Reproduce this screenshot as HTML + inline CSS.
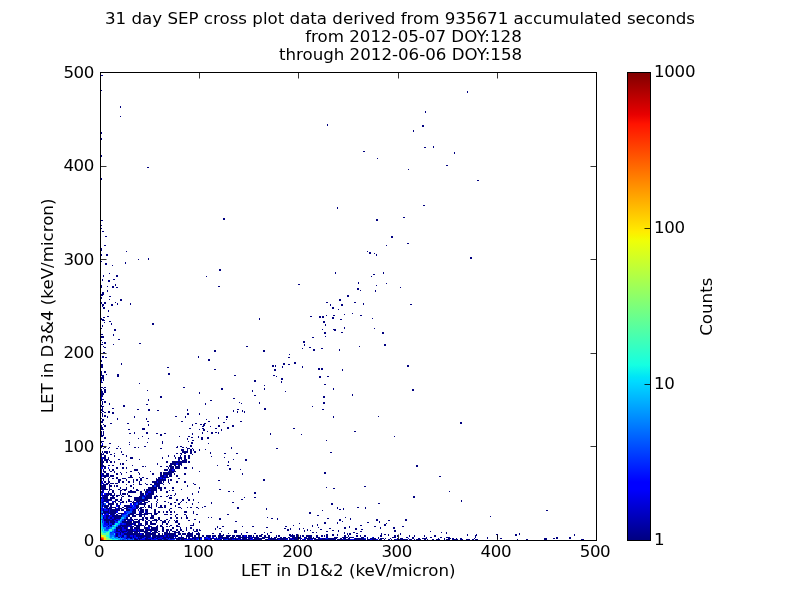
<!DOCTYPE html>
<html lang="en"><head><meta charset="utf-8"><title>31 day SEP cross plot</title>
<style>html,body{margin:0;padding:0;background:#fff;width:800px;height:600px;overflow:hidden}svg{display:block;will-change:transform}text{font-family:"DejaVu Sans","Liberation Sans",sans-serif;font-size:16.67px;fill:#000}.t{letter-spacing:-0.45px}.c{letter-spacing:-0.3px}</style>
</head><body>
<svg width="800" height="600" viewBox="0 0 800 600">
<rect x="0" y="0" width="800" height="600" fill="#ffffff"/>
<defs><linearGradient id="jet" x1="0" y1="1" x2="0" y2="0">
<stop offset="0.000" stop-color="#000080"/>
<stop offset="0.110" stop-color="#0000ff"/>
<stop offset="0.125" stop-color="#0000ff"/>
<stop offset="0.340" stop-color="#00dbff"/>
<stop offset="0.350" stop-color="#00e5f7"/>
<stop offset="0.375" stop-color="#15ffe2"/>
<stop offset="0.640" stop-color="#efff08"/>
<stop offset="0.650" stop-color="#f7f600"/>
<stop offset="0.660" stop-color="#ffec00"/>
<stop offset="0.890" stop-color="#ff1300"/>
<stop offset="0.910" stop-color="#e80000"/>
<stop offset="1.000" stop-color="#800000"/>
</linearGradient></defs>
<g id="data" shape-rendering="crispEdges" fill="none" stroke-width="1">
<path stroke="#000080" d="M101 75.5h2M101 90.5h1M467 91.5h1M467 92.5h1M120 106.5h1M120 107.5h1M425 111.5h1M425 112.5h1M120 116.5h1M327 124.5h1M327 125.5h1M422 125.5h2M422 126.5h2M413 130.5h1M413 131.5h1M101 132.5h1M101 133.5h1M101 138.5h1M101 139.5h1M433 146.5h1M424 147.5h2M433 147.5h1M363 151.5h2M454 152.5h1M454 153.5h1M101 155.5h1M101 156.5h1M377 158.5h1M446 165.5h2M147 167.5h2M408 169.5h1M101 178.5h1M101 179.5h1M477 180.5h2M423 205.5h2M337 207.5h1M337 208.5h1M403 217.5h2M223 218.5h2M223 219.5h2M376 219.5h2M101 220.5h2M376 220.5h2M101 225.5h1M101 228.5h1M102 231.5h2M105 236.5h2M391 236.5h2M391 237.5h2M407 243.5h2M104 245.5h2M386 245.5h1M101 248.5h1M101 249.5h1M101 250.5h1M126 251.5h1M367 251.5h1M369 252.5h2M369 253.5h2M374 253.5h1M101 254.5h1M106 254.5h2M376 254.5h1M101 255.5h1M106 255.5h2M376 255.5h1M470 257.5h2M148 258.5h1M470 258.5h2M138 259.5h1M148 259.5h1M101 261.5h1M125 262.5h1M105 263.5h2M125 263.5h1M105 264.5h2M112 265.5h1M219 269.5h2M219 270.5h2M335 272.5h1M383 272.5h1M109 273.5h1M335 273.5h1M383 273.5h1M373 274.5h2M103 275.5h1M116 275.5h2M103 276.5h1M116 276.5h2M206 276.5h1M371 276.5h1M102 279.5h1M113 279.5h2M102 280.5h1M108 280.5h2M108 281.5h2M358 282.5h1M358 283.5h1M386 283.5h1M115 284.5h1M298 284.5h2M101 285.5h1M115 285.5h1M376 285.5h1M101 286.5h1M107 286.5h1M112 286.5h2M218 286.5h2M101 287.5h1M112 287.5h2M116 287.5h2M400 287.5h1M357 288.5h2M357 289.5h2M107 290.5h1M360 290.5h1M375 290.5h1M107 291.5h1M375 291.5h1M102 292.5h2M102 293.5h2M101 294.5h3M101 295.5h2M347 295.5h2M109 296.5h2M347 296.5h2M101 297.5h1M101 298.5h1M109 299.5h1M120 299.5h2M339 299.5h2M120 300.5h2M339 300.5h2M101 302.5h1M104 302.5h2M115 302.5h1M326 302.5h2M354 302.5h2M101 303.5h1M104 303.5h2M117 303.5h1M130 303.5h1M363 303.5h1M102 304.5h2M111 304.5h2M117 304.5h1M130 304.5h1M330 304.5h1M341 304.5h2M363 304.5h1M410 304.5h2M102 305.5h2M111 305.5h2M330 305.5h1M341 305.5h2M102 306.5h1M103 307.5h2M332 307.5h2M103 308.5h2M332 308.5h2M338 309.5h1M108 310.5h1M108 311.5h1M352 313.5h1M344 314.5h1M326 315.5h1M333 315.5h2M360 315.5h2M107 316.5h2M310 316.5h2M319 316.5h2M322 316.5h2M103 317.5h2M319 317.5h2M322 317.5h2M332 317.5h2M101 318.5h1M259 318.5h1M332 318.5h2M372 318.5h1M101 319.5h3M259 319.5h1M340 319.5h2M102 320.5h3M109 321.5h2M323 321.5h2M104 322.5h1M323 322.5h2M111 323.5h1M152 323.5h2M111 324.5h1M152 324.5h2M325 324.5h1M102 325.5h1M325 325.5h1M102 326.5h1M344 327.5h1M101 328.5h1M344 328.5h1M374 328.5h1M114 329.5h2M322 329.5h1M333 329.5h3M114 330.5h2M334 330.5h2M324 332.5h2M341 332.5h2M382 332.5h2M324 333.5h2M382 333.5h2M101 334.5h2M113 334.5h1M113 335.5h1M101 336.5h3M325 336.5h1M101 337.5h3M312 337.5h2M118 339.5h2M101 340.5h1M303 341.5h2M102 342.5h1M104 342.5h2M303 342.5h2M104 343.5h2M139 343.5h2M101 344.5h2M113 344.5h1M304 344.5h1M384 344.5h2M304 345.5h1M384 345.5h2M103 346.5h1M246 346.5h2M359 346.5h1M104 347.5h2M309 347.5h2M302 348.5h1M321 348.5h2M313 349.5h2M339 349.5h1M214 350.5h2M263 350.5h2M313 350.5h2M339 350.5h1M214 351.5h2M263 351.5h2M103 352.5h2M289 354.5h1M102 356.5h2M198 356.5h1M102 357.5h2M105 357.5h2M198 357.5h1M288 357.5h2M208 359.5h2M101 360.5h1M208 360.5h2M101 361.5h1M294 362.5h2M121 363.5h1M283 363.5h2M294 363.5h2M101 364.5h2M121 364.5h1M283 364.5h2M288 364.5h2M101 365.5h2M272 365.5h2M275 365.5h1M407 365.5h2M101 366.5h2M272 366.5h2M275 366.5h1M282 366.5h1M302 366.5h1M407 366.5h2M101 367.5h2M167 367.5h2M282 367.5h1M302 367.5h1M318 368.5h2M321 368.5h2M214 369.5h2M274 369.5h2M318 369.5h2M321 369.5h2M342 369.5h1M274 370.5h2M342 370.5h1M101 371.5h1M104 371.5h2M101 372.5h1M104 372.5h2M101 373.5h1M168 373.5h2M101 374.5h1M106 374.5h1M117 374.5h2M168 374.5h2M101 375.5h3M117 375.5h2M234 375.5h2M273 375.5h2M102 376.5h2M117 376.5h2M276 376.5h1M319 376.5h2M327 376.5h2M101 377.5h3M319 377.5h2M101 378.5h3M281 378.5h2M101 379.5h1M103 379.5h1M281 379.5h2M101 380.5h1M103 380.5h1M254 380.5h2M254 381.5h2M281 381.5h1M101 382.5h2M281 382.5h1M139 383.5h1M324 384.5h2M264 385.5h1M101 387.5h2M104 387.5h2M183 387.5h2M103 388.5h1M221 388.5h2M264 388.5h1M333 388.5h1M101 389.5h1M104 389.5h2M221 389.5h2M264 389.5h1M333 389.5h1M412 389.5h2M101 390.5h1M104 390.5h2M147 390.5h1M252 390.5h1M412 390.5h2M101 391.5h2M104 391.5h2M252 391.5h1M285 391.5h1M101 392.5h2M104 392.5h2M199 392.5h1M101 393.5h3M199 393.5h1M101 394.5h3M352 394.5h1M101 395.5h2M254 395.5h2M352 395.5h1M101 396.5h2M160 396.5h2M323 396.5h2M160 397.5h2M323 397.5h2M233 398.5h2M101 399.5h3M148 399.5h1M101 400.5h1M148 400.5h1M210 400.5h2M102 401.5h1M104 401.5h2M102 402.5h1M104 402.5h2M239 402.5h1M259 402.5h1M323 402.5h2M102 403.5h1M109 403.5h1M205 403.5h1M241 403.5h1M259 403.5h1M323 403.5h2M102 404.5h1M109 404.5h1M146 404.5h2M205 404.5h1M101 405.5h1M123 405.5h2M101 406.5h3M123 406.5h2M312 406.5h1M102 407.5h1M102 408.5h1M112 408.5h2M264 408.5h2M101 409.5h2M137 409.5h2M148 409.5h2M187 409.5h1M237 409.5h2M264 409.5h2M322 409.5h2M101 410.5h2M148 410.5h2M157 410.5h2M187 410.5h1M233 410.5h1M242 410.5h1M102 411.5h2M108 411.5h2M233 411.5h1M237 411.5h1M242 411.5h1M244 411.5h1M101 412.5h1M104 412.5h2M108 412.5h2M112 412.5h2M237 412.5h1M244 412.5h1M102 413.5h1M112 413.5h2M187 413.5h2M199 413.5h1M102 414.5h1M187 414.5h2M199 414.5h1M102 415.5h1M104 415.5h2M102 416.5h1M104 416.5h2M107 416.5h1M134 416.5h1M175 416.5h2M185 416.5h1M226 416.5h2M333 416.5h1M378 416.5h1M107 417.5h1M134 417.5h1M185 417.5h1M218 417.5h1M226 417.5h2M333 417.5h1M101 418.5h1M117 418.5h1M146 418.5h1M218 418.5h1M102 419.5h2M117 419.5h1M146 419.5h1M206 419.5h1M226 419.5h1M102 420.5h2M101 421.5h2M147 421.5h2M181 421.5h2M208 421.5h2M240 421.5h2M101 422.5h2M223 422.5h2M460 422.5h2M110 423.5h2M127 423.5h2M195 423.5h2M204 423.5h2M460 423.5h2M103 424.5h1M148 424.5h1M192 424.5h1M200 424.5h2M203 424.5h2M101 425.5h1M104 425.5h2M148 425.5h1M192 425.5h1M203 425.5h2M218 425.5h2M232 425.5h2M101 426.5h1M104 426.5h2M202 426.5h2M210 426.5h1M218 426.5h2M232 426.5h2M101 427.5h2M227 427.5h2M101 428.5h2M142 428.5h3M189 428.5h2M202 428.5h2M215 428.5h2M227 428.5h2M293 428.5h2M101 429.5h3M128 429.5h2M142 429.5h3M199 429.5h1M203 429.5h2M221 429.5h1M203 430.5h2M221 430.5h1M101 431.5h1M103 431.5h1M207 431.5h1M354 431.5h2M101 432.5h1M103 432.5h1M134 432.5h1M146 432.5h2M202 432.5h1M211 432.5h2M215 432.5h2M218 432.5h1M101 433.5h1M103 433.5h1M129 433.5h2M134 433.5h1M146 433.5h2M156 433.5h2M164 433.5h2M192 433.5h1M202 433.5h1M211 433.5h2M218 433.5h1M270 433.5h1M101 434.5h1M103 434.5h1M160 434.5h2M192 434.5h1M270 434.5h1M301 434.5h1M101 435.5h3M160 435.5h2M101 436.5h2M142 436.5h1M179 436.5h1M188 436.5h2M198 436.5h1M394 436.5h1M104 437.5h2M191 437.5h2M198 437.5h1M201 437.5h2M207 437.5h2M104 438.5h2M138 438.5h1M148 438.5h1M187 438.5h1M201 438.5h2M207 438.5h2M187 439.5h1M201 439.5h2M192 440.5h2M326 440.5h1M101 441.5h3M162 441.5h1M188 441.5h1M101 442.5h1M129 442.5h1M147 442.5h1M162 442.5h1M191 442.5h2M109 443.5h2M162 443.5h1M191 443.5h2M208 443.5h1M129 444.5h1M102 445.5h1M190 445.5h2M102 446.5h1M118 446.5h1M144 446.5h2M177 446.5h1M180 446.5h2M190 446.5h2M101 447.5h1M104 447.5h2M109 447.5h1M134 447.5h2M138 447.5h1M176 447.5h2M182 447.5h2M186 447.5h1M231 447.5h1M103 448.5h1M108 448.5h1M116 448.5h2M120 448.5h1M160 448.5h2M187 448.5h3M192 448.5h1M231 448.5h1M276 448.5h2M181 449.5h3M187 449.5h1M190 449.5h2M193 449.5h1M199 449.5h1M205 449.5h1M181 450.5h3M187 450.5h1M190 450.5h2M193 450.5h1M199 450.5h1M102 451.5h1M104 451.5h4M109 451.5h1M121 451.5h1M182 451.5h6M190 451.5h2M194 451.5h2M102 452.5h1M104 452.5h4M109 452.5h1M121 452.5h1M182 452.5h6M190 452.5h2M194 452.5h2M210 452.5h1M330 452.5h2M101 453.5h1M103 453.5h1M106 453.5h2M114 453.5h1M176 453.5h2M180 453.5h2M184 453.5h2M190 453.5h2M210 453.5h1M224 453.5h2M236 453.5h2M101 454.5h3M110 454.5h2M122 454.5h2M181 454.5h1M192 454.5h1M101 455.5h1M104 455.5h2M114 455.5h1M126 455.5h1M168 455.5h1M174 455.5h1M180 455.5h1M184 455.5h2M188 455.5h2M101 456.5h1M104 456.5h2M114 456.5h1M126 456.5h1M168 456.5h1M174 456.5h1M180 456.5h1M184 456.5h2M188 456.5h2M211 456.5h1M101 457.5h1M103 457.5h3M108 457.5h1M130 457.5h3M162 457.5h1M175 457.5h1M178 457.5h4M184 457.5h2M188 457.5h2M224 457.5h1M101 458.5h1M103 458.5h3M108 458.5h1M130 458.5h3M162 458.5h1M175 458.5h1M178 458.5h4M184 458.5h2M188 458.5h2M101 459.5h2M104 459.5h5M118 459.5h2M139 459.5h1M178 459.5h2M181 459.5h1M184 459.5h3M233 459.5h1M245 459.5h2M101 460.5h2M104 460.5h4M109 460.5h1M126 460.5h1M182 460.5h5M245 460.5h2M101 461.5h3M106 461.5h2M110 461.5h2M114 461.5h1M166 461.5h2M172 461.5h15M188 461.5h2M228 461.5h1M101 462.5h3M106 462.5h2M110 462.5h2M114 462.5h1M166 462.5h2M172 462.5h15M188 462.5h2M228 462.5h1M101 463.5h2M120 463.5h1M122 463.5h2M157 463.5h1M170 463.5h6M178 463.5h4M101 464.5h2M120 464.5h1M122 464.5h2M157 464.5h1M170 464.5h6M178 464.5h4M101 465.5h3M108 465.5h2M112 465.5h2M132 465.5h1M169 465.5h3M174 465.5h2M178 465.5h2M181 465.5h1M217 465.5h1M227 465.5h2M416 465.5h2M101 466.5h5M142 466.5h2M145 466.5h1M160 466.5h2M166 466.5h2M169 466.5h5M175 466.5h5M416 466.5h2M104 467.5h2M116 467.5h2M122 467.5h2M126 467.5h1M168 467.5h1M170 467.5h4M175 467.5h5M184 467.5h3M192 467.5h1M104 468.5h2M116 468.5h2M122 468.5h2M126 468.5h1M168 468.5h1M170 468.5h4M175 468.5h5M184 468.5h3M192 468.5h1M229 468.5h2M101 469.5h1M103 469.5h1M109 469.5h1M112 469.5h2M134 469.5h4M164 469.5h4M169 469.5h3M174 469.5h1M229 469.5h2M240 469.5h1M101 470.5h1M103 470.5h1M109 470.5h1M112 470.5h2M134 470.5h4M164 470.5h4M169 470.5h3M174 470.5h1M101 471.5h1M103 471.5h3M110 471.5h2M114 471.5h1M130 471.5h2M150 471.5h1M169 471.5h7M199 471.5h1M101 472.5h1M104 472.5h2M114 472.5h1M120 472.5h1M126 472.5h1M138 472.5h1M160 472.5h2M163 472.5h11M324 472.5h2M102 473.5h2M106 473.5h3M116 473.5h2M121 473.5h1M139 473.5h1M152 473.5h2M160 473.5h2M163 473.5h9M174 473.5h1M184 473.5h2M242 473.5h1M324 473.5h2M102 474.5h2M106 474.5h3M116 474.5h2M121 474.5h1M139 474.5h1M152 474.5h2M160 474.5h2M163 474.5h9M174 474.5h1M184 474.5h2M242 474.5h1M101 475.5h1M103 475.5h6M110 475.5h4M130 475.5h2M160 475.5h4M166 475.5h2M169 475.5h3M176 475.5h2M101 476.5h1M103 476.5h6M110 476.5h4M130 476.5h2M160 476.5h4M166 476.5h2M169 476.5h3M176 476.5h2M439 476.5h2M104 477.5h2M109 477.5h1M116 477.5h2M128 477.5h5M139 477.5h1M142 477.5h2M158 477.5h2M162 477.5h7M101 478.5h3M108 478.5h1M112 478.5h2M116 478.5h2M122 478.5h4M140 478.5h2M146 478.5h2M156 478.5h1M158 478.5h2M162 478.5h1M178 478.5h2M101 479.5h1M103 479.5h1M108 479.5h1M118 479.5h3M126 479.5h1M133 479.5h1M136 479.5h2M140 479.5h2M156 479.5h10M168 479.5h1M170 479.5h2M263 479.5h2M101 480.5h1M103 480.5h1M108 480.5h1M118 480.5h3M126 480.5h1M133 480.5h1M136 480.5h2M140 480.5h2M156 480.5h10M168 480.5h1M170 480.5h2M218 480.5h2M263 480.5h2M101 481.5h1M104 481.5h2M108 481.5h2M118 481.5h2M122 481.5h2M128 481.5h2M133 481.5h1M139 481.5h1M152 481.5h5M158 481.5h4M163 481.5h1M168 481.5h1M176 481.5h2M184 481.5h2M101 482.5h1M104 482.5h2M108 482.5h2M118 482.5h2M122 482.5h2M128 482.5h2M133 482.5h1M139 482.5h1M152 482.5h5M158 482.5h4M163 482.5h1M168 482.5h1M176 482.5h2M184 482.5h2M102 483.5h1M106 483.5h3M110 483.5h4M115 483.5h3M139 483.5h1M145 483.5h1M154 483.5h9M169 483.5h1M193 483.5h1M103 484.5h5M109 484.5h1M126 484.5h1M133 484.5h1M139 484.5h3M146 484.5h2M150 484.5h2M154 484.5h6M163 484.5h1M194 484.5h2M101 485.5h5M109 485.5h3M114 485.5h1M116 485.5h2M130 485.5h2M152 485.5h2M156 485.5h4M187 485.5h1M101 486.5h5M109 486.5h3M114 486.5h1M116 486.5h2M130 486.5h2M152 486.5h2M156 486.5h4M187 486.5h1M364 486.5h2M101 487.5h5M109 487.5h1M120 487.5h1M126 487.5h1M133 487.5h1M148 487.5h9M158 487.5h4M164 487.5h2M172 487.5h2M199 487.5h1M326 487.5h1M101 488.5h5M109 488.5h1M120 488.5h1M126 488.5h1M133 488.5h1M148 488.5h9M158 488.5h4M164 488.5h2M172 488.5h2M199 488.5h1M333 488.5h2M101 489.5h7M109 489.5h3M118 489.5h2M122 489.5h5M136 489.5h2M144 489.5h1M146 489.5h4M151 489.5h6M160 489.5h2M181 489.5h1M219 489.5h2M103 490.5h1M109 490.5h1M112 490.5h2M120 490.5h2M124 490.5h2M130 490.5h2M136 490.5h3M144 490.5h1M146 490.5h11M160 490.5h2M169 490.5h1M172 490.5h2M101 491.5h2M108 491.5h1M112 491.5h2M120 491.5h1M128 491.5h8M140 491.5h2M145 491.5h3M151 491.5h3M156 491.5h1M166 491.5h2M198 491.5h1M228 491.5h2M233 491.5h1M449 491.5h1M101 492.5h2M108 492.5h1M112 492.5h2M120 492.5h1M128 492.5h8M140 492.5h2M145 492.5h3M151 492.5h3M156 492.5h1M166 492.5h2M198 492.5h1M254 492.5h2M106 493.5h6M114 493.5h1M120 493.5h1M122 493.5h4M127 493.5h1M140 493.5h4M145 493.5h1M148 493.5h6M175 493.5h1M192 493.5h1M254 493.5h2M106 494.5h6M114 494.5h1M120 494.5h1M122 494.5h4M127 494.5h1M140 494.5h4M145 494.5h1M148 494.5h6M175 494.5h1M192 494.5h1M102 495.5h7M110 495.5h5M116 495.5h4M121 495.5h1M128 495.5h2M140 495.5h4M146 495.5h6M156 495.5h1M168 495.5h1M170 495.5h2M174 495.5h1M104 496.5h4M112 496.5h2M116 496.5h2M122 496.5h2M128 496.5h4M139 496.5h3M144 496.5h1M146 496.5h6M154 496.5h4M160 496.5h2M166 496.5h2M413 496.5h2M101 497.5h1M103 497.5h5M110 497.5h5M121 497.5h1M134 497.5h8M145 497.5h7M154 497.5h2M169 497.5h3M187 497.5h1M244 497.5h1M254 497.5h2M413 497.5h2M101 498.5h1M103 498.5h5M110 498.5h5M121 498.5h1M134 498.5h8M145 498.5h7M154 498.5h2M169 498.5h3M187 498.5h1M104 499.5h8M115 499.5h3M120 499.5h2M128 499.5h2M134 499.5h14M157 499.5h1M176 499.5h2M182 499.5h2M188 499.5h2M193 499.5h1M241 499.5h2M104 500.5h8M115 500.5h3M120 500.5h2M128 500.5h2M134 500.5h14M157 500.5h1M176 500.5h2M182 500.5h2M188 500.5h2M193 500.5h1M461 500.5h1M103 501.5h5M114 501.5h2M118 501.5h2M122 501.5h2M126 501.5h1M128 501.5h4M133 501.5h1M136 501.5h4M142 501.5h3M148 501.5h2M156 501.5h1M164 501.5h2M181 501.5h1M461 501.5h1M102 502.5h1M108 502.5h1M112 502.5h2M115 502.5h1M120 502.5h4M126 502.5h1M132 502.5h4M138 502.5h1M140 502.5h2M144 502.5h4M157 502.5h1M168 502.5h1M174 502.5h2M180 502.5h1M186 502.5h1M198 502.5h1M211 502.5h1M232 502.5h2M103 503.5h1M108 503.5h6M116 503.5h2M133 503.5h1M138 503.5h8M151 503.5h1M156 503.5h1M170 503.5h2M178 503.5h2M192 503.5h1M211 503.5h1M331 503.5h2M378 503.5h2M103 504.5h1M108 504.5h6M116 504.5h2M133 504.5h1M138 504.5h8M151 504.5h1M156 504.5h1M170 504.5h2M178 504.5h2M192 504.5h1M331 504.5h2M102 505.5h1M104 505.5h5M110 505.5h2M118 505.5h2M124 505.5h6M136 505.5h3M144 505.5h1M148 505.5h2M151 505.5h1M156 505.5h1M160 505.5h2M164 505.5h2M175 505.5h1M102 506.5h1M104 506.5h5M110 506.5h2M118 506.5h2M124 506.5h6M136 506.5h3M144 506.5h1M148 506.5h2M151 506.5h1M156 506.5h1M160 506.5h2M164 506.5h2M175 506.5h1M204 506.5h2M104 507.5h4M110 507.5h6M118 507.5h2M122 507.5h2M126 507.5h6M136 507.5h3M140 507.5h4M145 507.5h1M148 507.5h4M158 507.5h5M164 507.5h2M178 507.5h3M187 507.5h1M190 507.5h2M196 507.5h2M202 507.5h1M237 507.5h2M337 507.5h1M357 507.5h2M365 507.5h1M106 508.5h6M115 508.5h1M118 508.5h4M124 508.5h4M136 508.5h2M139 508.5h3M151 508.5h1M170 508.5h2M181 508.5h1M198 508.5h1M237 508.5h2M266 508.5h1M337 508.5h1M343 508.5h1M365 508.5h1M103 509.5h1M108 509.5h1M110 509.5h10M121 509.5h3M126 509.5h4M133 509.5h3M138 509.5h1M140 509.5h4M145 509.5h3M154 509.5h2M169 509.5h1M266 509.5h1M339 509.5h2M343 509.5h1M103 510.5h1M108 510.5h1M110 510.5h10M121 510.5h3M126 510.5h4M133 510.5h3M138 510.5h1M140 510.5h4M145 510.5h3M154 510.5h2M169 510.5h1M322 510.5h1M546 510.5h2M103 511.5h6M110 511.5h6M132 511.5h4M140 511.5h4M146 511.5h2M154 511.5h2M158 511.5h2M163 511.5h1M166 511.5h2M170 511.5h2M174 511.5h1M184 511.5h3M193 511.5h1M103 512.5h6M110 512.5h6M132 512.5h4M140 512.5h4M146 512.5h2M154 512.5h2M158 512.5h2M163 512.5h1M166 512.5h2M170 512.5h2M174 512.5h1M184 512.5h3M193 512.5h1M309 512.5h2M102 513.5h1M104 513.5h2M108 513.5h8M118 513.5h6M130 513.5h6M139 513.5h3M144 513.5h8M154 513.5h4M193 513.5h1M309 513.5h2M102 514.5h1M110 514.5h4M116 514.5h2M121 514.5h1M128 514.5h6M136 514.5h12M151 514.5h1M154 514.5h3M164 514.5h4M170 514.5h2M176 514.5h2M184 514.5h2M196 514.5h2M227 514.5h2M106 515.5h3M112 515.5h10M128 515.5h2M132 515.5h4M139 515.5h3M144 515.5h1M151 515.5h3M175 515.5h1M186 515.5h1M317 515.5h2M106 516.5h3M112 516.5h10M128 516.5h2M132 516.5h4M139 516.5h3M144 516.5h1M151 516.5h3M175 516.5h1M186 516.5h1M490 516.5h1M103 517.5h1M106 517.5h2M110 517.5h2M114 517.5h7M126 517.5h2M130 517.5h2M142 517.5h2M145 517.5h3M150 517.5h4M158 517.5h2M170 517.5h2M176 517.5h2M181 517.5h1M186 517.5h2M208 517.5h1M211 517.5h1M267 517.5h1M345 517.5h1M103 518.5h1M106 518.5h2M110 518.5h2M114 518.5h7M126 518.5h2M130 518.5h2M142 518.5h2M145 518.5h3M150 518.5h4M158 518.5h2M170 518.5h2M176 518.5h2M181 518.5h1M186 518.5h2M219 518.5h2M271 518.5h2M277 518.5h1M327 518.5h2M350 518.5h1M104 519.5h6M112 519.5h4M124 519.5h9M134 519.5h4M139 519.5h5M146 519.5h2M154 519.5h3M158 519.5h2M166 519.5h2M194 519.5h2M219 519.5h2M277 519.5h1M339 519.5h2M350 519.5h1M376 519.5h2M405 519.5h2M104 520.5h10M116 520.5h2M124 520.5h2M128 520.5h2M132 520.5h2M138 520.5h2M142 520.5h2M145 520.5h1M148 520.5h2M152 520.5h6M160 520.5h2M164 520.5h2M169 520.5h1M174 520.5h1M176 520.5h2M188 520.5h2M339 520.5h2M376 520.5h2M388 520.5h2M405 520.5h2M106 521.5h3M110 521.5h5M122 521.5h10M133 521.5h7M145 521.5h3M150 521.5h2M156 521.5h1M162 521.5h4M168 521.5h1M175 521.5h3M199 521.5h1M235 521.5h2M342 521.5h1M379 521.5h1M106 522.5h3M110 522.5h5M122 522.5h10M133 522.5h7M145 522.5h3M150 522.5h2M156 522.5h1M162 522.5h4M168 522.5h1M175 522.5h3M199 522.5h1M324 522.5h2M337 522.5h1M367 522.5h2M379 522.5h1M108 523.5h1M112 523.5h2M126 523.5h7M134 523.5h2M138 523.5h1M140 523.5h2M145 523.5h3M150 523.5h6M162 523.5h1M166 523.5h2M178 523.5h2M193 523.5h1M299 523.5h1M324 523.5h2M337 523.5h1M386 523.5h1M108 524.5h1M112 524.5h2M126 524.5h7M134 524.5h2M138 524.5h1M140 524.5h2M145 524.5h3M150 524.5h6M162 524.5h1M166 524.5h2M178 524.5h2M193 524.5h1M317 524.5h1M384 524.5h2M110 525.5h2M120 525.5h10M134 525.5h10M145 525.5h1M148 525.5h2M157 525.5h1M160 525.5h2M170 525.5h2M176 525.5h2M190 525.5h4M293 525.5h1M312 525.5h1M317 525.5h1M360 525.5h2M384 525.5h2M108 526.5h1M118 526.5h3M122 526.5h6M130 526.5h4M136 526.5h4M144 526.5h1M148 526.5h4M156 526.5h2M160 526.5h3M166 526.5h2M169 526.5h1M176 526.5h4M217 526.5h1M222 526.5h2M242 526.5h1M252 526.5h2M285 526.5h2M312 526.5h1M349 526.5h1M374 526.5h2M402 526.5h2M116 527.5h6M124 527.5h3M130 527.5h3M134 527.5h6M144 527.5h4M151 527.5h7M162 527.5h2M172 527.5h2M180 527.5h1M186 527.5h1M190 527.5h2M217 527.5h1M266 527.5h2M318 527.5h1M344 527.5h2M349 527.5h1M380 527.5h1M393 527.5h2M116 528.5h6M124 528.5h3M130 528.5h3M134 528.5h6M144 528.5h4M151 528.5h7M162 528.5h2M172 528.5h2M180 528.5h1M186 528.5h1M190 528.5h2M215 528.5h1M219 528.5h2M284 528.5h2M290 528.5h1M299 528.5h1M303 528.5h1M329 528.5h2M344 528.5h2M355 528.5h2M380 528.5h1M393 528.5h2M116 529.5h2M120 529.5h2M126 529.5h7M136 529.5h2M139 529.5h5M145 529.5h13M162 529.5h2M166 529.5h3M170 529.5h2M176 529.5h2M180 529.5h2M186 529.5h1M193 529.5h1M196 529.5h2M199 529.5h1M215 529.5h1M287 529.5h2M290 529.5h1M299 529.5h1M307 529.5h1M320 529.5h2M355 529.5h2M361 529.5h2M116 530.5h2M120 530.5h2M126 530.5h7M136 530.5h2M139 530.5h5M145 530.5h13M162 530.5h2M166 530.5h3M170 530.5h2M176 530.5h2M180 530.5h2M186 530.5h1M193 530.5h1M196 530.5h2M199 530.5h2M234 530.5h3M287 530.5h2M304 530.5h1M307 530.5h1M310 530.5h1M332 530.5h2M338 530.5h1M394 530.5h2M116 531.5h4M121 531.5h6M128 531.5h11M140 531.5h8M151 531.5h1M154 531.5h3M158 531.5h2M162 531.5h2M166 531.5h2M169 531.5h1M172 531.5h4M178 531.5h2M182 531.5h2M194 531.5h4M221 531.5h1M234 531.5h3M304 531.5h1M326 531.5h2M338 531.5h1M360 531.5h2M394 531.5h2M430 531.5h1M120 532.5h1M122 532.5h2M127 532.5h6M134 532.5h4M139 532.5h1M144 532.5h6M152 532.5h6M164 532.5h4M169 532.5h1M174 532.5h6M188 532.5h2M192 532.5h1M198 532.5h1M234 532.5h3M246 532.5h2M264 532.5h1M270 532.5h2M312 532.5h2M316 532.5h1M344 532.5h1M353 532.5h2M441 532.5h1M446 532.5h1M116 533.5h2M120 533.5h1M124 533.5h16M142 533.5h2M145 533.5h11M158 533.5h2M162 533.5h1M164 533.5h12M178 533.5h3M182 533.5h4M187 533.5h6M196 533.5h4M212 533.5h2M219 533.5h2M228 533.5h1M241 533.5h1M254 533.5h2M267 533.5h1M344 533.5h1M347 533.5h1M349 533.5h2M356 533.5h2M381 533.5h1M400 533.5h1M446 533.5h1M519 533.5h1M116 534.5h2M120 534.5h1M124 534.5h16M142 534.5h2M145 534.5h11M158 534.5h2M162 534.5h1M164 534.5h12M178 534.5h3M182 534.5h4M187 534.5h6M196 534.5h4M219 534.5h2M223 534.5h1M241 534.5h1M261 534.5h2M267 534.5h1M289 534.5h2M292 534.5h1M296 534.5h2M326 534.5h2M332 534.5h2M337 534.5h1M347 534.5h1M349 534.5h2M381 534.5h1M384 534.5h2M388 534.5h1M400 534.5h1M467 534.5h1M476 534.5h1M496 534.5h2M515 534.5h2M519 534.5h1M574 534.5h1M116 535.5h2M122 535.5h2M127 535.5h3M133 535.5h1M136 535.5h15M152 535.5h12M166 535.5h2M169 535.5h5M175 535.5h3M181 535.5h1M186 535.5h7M194 535.5h2M198 535.5h1M202 535.5h2M206 535.5h5M212 535.5h4M218 535.5h6M226 535.5h5M232 535.5h3M236 535.5h5M242 535.5h2M246 535.5h1M248 535.5h4M253 535.5h1M256 535.5h2M259 535.5h3M264 535.5h2M268 535.5h2M276 535.5h1M278 535.5h2M289 535.5h6M296 535.5h2M300 535.5h1M302 535.5h2M306 535.5h6M316 535.5h2M321 535.5h2M324 535.5h1M326 535.5h2M332 535.5h2M337 535.5h1M344 535.5h2M348 535.5h1M356 535.5h2M360 535.5h1M364 535.5h2M380 535.5h2M388 535.5h1M394 535.5h2M397 535.5h1M409 535.5h1M414 535.5h1M424 535.5h1M434 535.5h2M467 535.5h1M475 535.5h2M497 535.5h1M515 535.5h2M574 535.5h1M116 536.5h2M122 536.5h2M127 536.5h3M133 536.5h1M136 536.5h15M152 536.5h12M166 536.5h2M169 536.5h5M175 536.5h3M181 536.5h1M186 536.5h7M194 536.5h2M198 536.5h1M202 536.5h2M206 536.5h5M212 536.5h4M218 536.5h5M226 536.5h4M232 536.5h3M236 536.5h5M242 536.5h2M246 536.5h1M248 536.5h4M253 536.5h1M256 536.5h2M259 536.5h3M264 536.5h2M268 536.5h2M276 536.5h1M278 536.5h2M290 536.5h5M296 536.5h2M300 536.5h1M302 536.5h2M306 536.5h6M316 536.5h2M321 536.5h2M324 536.5h1M326 536.5h2M344 536.5h2M348 536.5h1M356 536.5h2M360 536.5h1M364 536.5h2M380 536.5h2M394 536.5h2M397 536.5h1M409 536.5h1M414 536.5h1M424 536.5h1M434 536.5h2M475 536.5h1M497 536.5h1M118 537.5h2M121 537.5h1M127 537.5h5M133 537.5h1M138 537.5h1M140 537.5h4M146 537.5h4M152 537.5h4M157 537.5h3M163 537.5h11M175 537.5h1M178 537.5h2M181 537.5h3M186 537.5h1M188 537.5h2M192 537.5h10M204 537.5h2M208 537.5h2M216 537.5h1M218 537.5h11M230 537.5h4M235 537.5h1M238 537.5h9M248 537.5h2M252 537.5h7M262 537.5h8M271 537.5h1M274 537.5h3M280 537.5h2M283 537.5h3M288 537.5h2M292 537.5h9M304 537.5h3M308 537.5h4M313 537.5h1M316 537.5h4M326 537.5h2M334 537.5h4M342 537.5h6M349 537.5h5M361 537.5h3M367 537.5h1M373 537.5h1M378 537.5h1M392 537.5h4M406 537.5h2M412 537.5h2M426 537.5h1M430 537.5h2M440 537.5h2M446 537.5h4M475 537.5h1M487 537.5h1M497 537.5h1M556 537.5h2M569 537.5h2M126 538.5h1M130 538.5h2M134 538.5h2M138 538.5h4M145 538.5h3M152 538.5h2M156 538.5h2M162 538.5h4M168 538.5h1M170 538.5h4M176 538.5h11M188 538.5h2M192 538.5h4M199 538.5h1M210 538.5h4M216 538.5h1M218 538.5h2M222 538.5h7M230 538.5h6M238 538.5h3M242 538.5h5M248 538.5h4M254 538.5h11M268 538.5h8M277 538.5h11M289 538.5h1M292 538.5h8M301 538.5h1M306 538.5h10M318 538.5h2M322 538.5h3M328 538.5h9M340 538.5h2M343 538.5h3M348 538.5h2M355 538.5h9M367 538.5h1M370 538.5h6M378 538.5h1M380 538.5h4M385 538.5h1M390 538.5h1M397 538.5h1M400 538.5h3M412 538.5h2M418 538.5h2M422 538.5h5M438 538.5h1M444 538.5h1M448 538.5h3M452 538.5h2M456 538.5h1M460 538.5h2M474 538.5h1M487 538.5h1M497 538.5h1M500 538.5h2M544 538.5h3M553 538.5h2M556 538.5h2M569 538.5h2M134 539.5h4M139 539.5h1M145 539.5h6M158 539.5h4M164 539.5h4M176 539.5h4M181 539.5h3M190 539.5h2M194 539.5h2M204 539.5h4M210 539.5h2M214 539.5h2M217 539.5h1M220 539.5h2M223 539.5h1M228 539.5h4M235 539.5h3M240 539.5h1M242 539.5h8M253 539.5h9M265 539.5h3M270 539.5h8M280 539.5h6M289 539.5h3M294 539.5h4M300 539.5h1M304 539.5h2M307 539.5h3M314 539.5h22M337 539.5h6M344 539.5h6M354 539.5h12M367 539.5h3M372 539.5h4M379 539.5h3M384 539.5h1M388 539.5h2M391 539.5h1M394 539.5h2M397 539.5h11M409 539.5h3M414 539.5h1M416 539.5h5M424 539.5h2M427 539.5h1M432 539.5h2M436 539.5h4M444 539.5h1M446 539.5h4M452 539.5h6M460 539.5h3M466 539.5h4M472 539.5h2M475 539.5h3M517 539.5h1M526 539.5h2M544 539.5h3M581 539.5h3"/>
<path stroke="#0000f4" d="M101 381.5h1M101 397.5h1M101 398.5h1M102 443.5h1M102 444.5h1M101 445.5h1M101 446.5h1M102 457.5h1M102 458.5h1M178 460.5h2M176 463.5h2M176 464.5h2M101 467.5h2M108 467.5h1M101 468.5h2M108 468.5h1M172 469.5h2M172 470.5h2M101 473.5h1M101 474.5h1M102 475.5h1M164 475.5h2M102 476.5h1M164 476.5h2M101 477.5h1M160 477.5h2M160 478.5h2M164 478.5h2M102 481.5h1M157 481.5h1M102 482.5h1M157 482.5h1M101 483.5h1M103 483.5h1M150 489.5h1M102 490.5h1M103 491.5h1M148 491.5h3M103 492.5h1M148 492.5h3M102 493.5h1M104 493.5h2M146 493.5h2M102 494.5h1M104 494.5h2M146 494.5h2M101 495.5h1M102 496.5h2M142 496.5h2M145 496.5h1M102 497.5h1M144 497.5h1M102 498.5h1M144 498.5h1M102 499.5h2M102 500.5h2M102 501.5h1M108 501.5h1M112 501.5h2M140 501.5h2M101 502.5h1M106 502.5h2M136 502.5h2M102 503.5h1M130 503.5h2M134 503.5h2M102 504.5h1M130 504.5h2M134 504.5h2M116 505.5h2M130 505.5h3M134 505.5h2M116 506.5h2M130 506.5h3M134 506.5h2M102 507.5h1M109 507.5h1M133 507.5h1M101 508.5h3M116 508.5h2M132 508.5h1M134 508.5h2M102 509.5h1M104 509.5h4M109 509.5h1M132 509.5h1M102 510.5h1M104 510.5h4M109 510.5h1M132 510.5h1M109 511.5h1M116 511.5h2M124 511.5h2M139 511.5h1M145 511.5h1M109 512.5h1M116 512.5h2M124 512.5h2M139 512.5h1M145 512.5h1M101 513.5h1M106 513.5h2M124 513.5h3M104 514.5h5M114 514.5h1M122 514.5h2M103 515.5h3M109 515.5h3M103 516.5h3M109 516.5h3M104 517.5h2M108 517.5h2M112 517.5h2M104 518.5h2M108 518.5h2M112 518.5h2M110 519.5h2M116 519.5h4M114 520.5h2M127 520.5h1M130 520.5h2M104 521.5h2M104 522.5h2M104 523.5h4M110 523.5h2M120 523.5h2M124 523.5h2M133 523.5h1M139 523.5h1M104 524.5h4M110 524.5h2M120 524.5h2M124 524.5h2M133 524.5h1M139 524.5h1M106 525.5h2M109 525.5h1M118 525.5h2M130 525.5h2M104 526.5h2M110 526.5h2M121 526.5h1M128 526.5h2M122 527.5h2M127 527.5h1M148 527.5h2M122 528.5h2M127 528.5h1M148 528.5h2M118 529.5h2M122 529.5h4M133 529.5h3M138 529.5h1M118 530.5h2M122 530.5h4M133 530.5h3M138 530.5h1M115 531.5h1M120 531.5h1M127 531.5h1M139 531.5h1M150 531.5h1M114 532.5h6M121 532.5h1M124 532.5h2M150 532.5h1M115 533.5h1M118 533.5h2M122 533.5h2M140 533.5h2M115 534.5h1M118 534.5h2M122 534.5h2M140 534.5h2M115 535.5h1M120 535.5h2M126 535.5h1M130 535.5h3M134 535.5h2M164 535.5h2M168 535.5h1M174 535.5h1M244 535.5h2M115 536.5h1M120 536.5h2M126 536.5h1M130 536.5h3M134 536.5h2M164 536.5h2M168 536.5h1M174 536.5h1M244 536.5h2M122 537.5h2M126 537.5h1M132 537.5h1M134 537.5h2M139 537.5h1M145 537.5h1M150 537.5h1M160 537.5h3M180 537.5h1M210 537.5h1M212 537.5h2M247 537.5h1M250 537.5h2M127 538.5h1M132 538.5h1M136 538.5h2M144 538.5h1M148 538.5h4M154 538.5h2M158 538.5h4M166 538.5h2M174 538.5h2M190 538.5h2M196 538.5h3M200 538.5h2M204 538.5h6M214 538.5h2M220 538.5h2M229 538.5h1M236 538.5h2M252 538.5h1M290 538.5h2M300 538.5h1M304 538.5h2M320 538.5h2M325 538.5h1M354 538.5h1M408 538.5h1M127 539.5h1M140 539.5h5M152 539.5h4M157 539.5h1M163 539.5h1M170 539.5h2M184 539.5h6M192 539.5h1M196 539.5h2M208 539.5h2M216 539.5h1M218 539.5h2M224 539.5h2M232 539.5h3M238 539.5h2M241 539.5h1M250 539.5h3M268 539.5h2M278 539.5h2M286 539.5h2M292 539.5h2M302 539.5h2M310 539.5h3M343 539.5h1M350 539.5h4M370 539.5h2M376 539.5h2M396 539.5h1"/>
<path stroke="#0023ff" d="M168 471.5h1M163 478.5h1M101 484.5h1M154 485.5h2M154 486.5h2M101 493.5h1M101 494.5h1M144 495.5h2M101 499.5h1M101 500.5h1M101 501.5h1M103 502.5h1M139 502.5h1M120 503.5h1M120 504.5h1M103 505.5h1M103 506.5h1M132 507.5h1M134 507.5h2M128 508.5h4M133 508.5h1M101 509.5h1M130 509.5h2M101 510.5h1M130 510.5h2M127 511.5h1M127 512.5h1M103 513.5h1M124 514.5h2M126 515.5h2M126 516.5h2M102 519.5h2M122 519.5h2M103 520.5h1M122 520.5h2M102 521.5h1M109 521.5h1M115 521.5h3M102 522.5h1M109 522.5h1M115 522.5h3M109 523.5h1M114 523.5h1M122 523.5h2M109 524.5h1M114 524.5h1M122 524.5h2M103 525.5h3M108 525.5h1M103 526.5h1M109 526.5h1M106 527.5h3M106 528.5h3M114 529.5h2M114 530.5h2M114 531.5h1M110 532.5h2M126 532.5h1M121 533.5h1M121 534.5h1M118 535.5h2M118 536.5h2M124 537.5h2M136 537.5h2M144 537.5h1M156 537.5h1M206 537.5h2M372 537.5h1M124 538.5h2M128 538.5h2M142 538.5h2M169 538.5h1M326 538.5h2M364 538.5h2M122 539.5h2M132 539.5h1M138 539.5h1M151 539.5h1M168 539.5h2M172 539.5h2M180 539.5h1M193 539.5h1M199 539.5h3M226 539.5h2"/>
<path stroke="#004dff" d="M142 497.5h2M142 498.5h2M101 503.5h1M104 503.5h2M136 503.5h2M101 504.5h1M104 504.5h2M136 504.5h2M101 505.5h1M101 506.5h1M101 507.5h1M104 508.5h2M101 511.5h1M126 511.5h1M128 511.5h4M101 512.5h1M126 512.5h1M128 512.5h4M128 513.5h2M122 515.5h2M122 516.5h2M124 517.5h2M124 518.5h2M101 519.5h1M102 520.5h1M118 520.5h2M121 521.5h1M121 522.5h1M103 523.5h1M103 524.5h1M106 526.5h2M109 527.5h1M109 528.5h1M106 529.5h2M106 530.5h2M112 531.5h2M112 532.5h2M110 533.5h4M110 534.5h4M114 535.5h1M124 535.5h2M114 536.5h1M124 536.5h2M115 537.5h1M151 537.5h1M133 538.5h1M217 538.5h1M120 539.5h1M124 539.5h2M130 539.5h2M156 539.5h1M162 539.5h1M174 539.5h1"/>
<path stroke="#006eff" d="M133 505.5h1M133 506.5h1M127 513.5h1M101 514.5h1M126 514.5h1M102 515.5h1M124 515.5h2M102 516.5h1M124 516.5h2M121 520.5h1M103 521.5h1M120 521.5h1M103 522.5h1M120 522.5h1M116 526.5h2M104 529.5h2M104 530.5h2M110 535.5h2M110 536.5h2M114 537.5h1M120 537.5h1M120 538.5h1M122 538.5h2M128 539.5h2M198 539.5h1"/>
<path stroke="#0089ff" d="M102 511.5h1M102 512.5h1M127 514.5h1M102 517.5h1M102 518.5h1M102 523.5h1M118 523.5h2M102 524.5h1M118 524.5h2M112 526.5h2M104 527.5h2M110 527.5h2M104 528.5h2M110 528.5h2M108 529.5h1M108 530.5h1M112 535.5h2M112 536.5h2M110 537.5h2M116 537.5h2M116 538.5h2M121 538.5h1M121 539.5h1M133 539.5h1"/>
<path stroke="#00a0ff" d="M101 515.5h1M101 516.5h1M121 517.5h1M121 518.5h1M102 525.5h1M112 525.5h2M116 525.5h2M103 527.5h1M115 527.5h1M103 528.5h1M115 528.5h1M112 529.5h2M112 530.5h2M112 538.5h2M115 538.5h1M118 538.5h2M118 539.5h2M126 539.5h1"/>
<path stroke="#00b4ff" d="M120 519.5h2M102 529.5h1M102 530.5h1"/>
<path stroke="#00c5ff" d="M101 517.5h1M122 517.5h2M101 518.5h1M122 518.5h2M120 520.5h1M102 526.5h1M114 526.5h1M114 527.5h1M114 528.5h1M106 531.5h2M104 532.5h2M109 533.5h1M114 533.5h1M109 534.5h1M114 534.5h1M110 538.5h2"/>
<path stroke="#00d4ff" d="M115 523.5h1M115 524.5h1M115 526.5h1M102 527.5h1M102 528.5h1M104 531.5h2M110 531.5h2M109 535.5h1M109 536.5h1M109 537.5h1M112 537.5h2M114 538.5h1"/>
<path stroke="#00e3f9" d="M101 520.5h1M101 521.5h1M118 521.5h2M101 522.5h1M118 522.5h2M116 523.5h2M116 524.5h2M103 531.5h1M103 532.5h1M109 532.5h1M114 539.5h1"/>
<path stroke="#08efef" d="M101 523.5h1M101 524.5h1M101 525.5h1M101 526.5h1M102 531.5h1M109 531.5h1M112 539.5h2M115 539.5h3"/>
<path stroke="#12fbe5" d="M101 527.5h1M112 527.5h2M101 528.5h1M112 528.5h2"/>
<path stroke="#23ffd4" d="M103 529.5h1M109 529.5h1M103 530.5h1M109 530.5h1M108 531.5h1"/>
<path stroke="#2affcd" d="M115 525.5h1M106 535.5h3M106 536.5h3"/>
<path stroke="#38ffbe" d="M114 525.5h1M110 529.5h2M110 530.5h2M102 532.5h1M106 532.5h2M108 537.5h1"/>
<path stroke="#45ffb2" d="M104 533.5h2M104 534.5h2M109 538.5h1"/>
<path stroke="#50ffa7" d="M101 529.5h1M101 530.5h1M102 533.5h1M108 533.5h1M102 534.5h1M108 534.5h1"/>
<path stroke="#5bff9c" d="M101 531.5h1M108 532.5h1M103 533.5h1M106 533.5h2M103 534.5h1M106 534.5h2"/>
<path stroke="#64ff93" d="M101 532.5h1M110 539.5h2"/>
<path stroke="#71ff86" d="M106 538.5h3"/>
<path stroke="#7dff7a" d="M106 537.5h2M108 539.5h1"/>
<path stroke="#87ff6f" d="M109 539.5h1"/>
<path stroke="#9dff5a" d="M106 539.5h2"/>
<path stroke="#a8ff4f" d="M101 533.5h1M101 534.5h1M104 535.5h2M104 536.5h2"/>
<path stroke="#ccff2b" d="M104 537.5h2"/>
<path stroke="#d7ff20" d="M103 535.5h1M103 536.5h1"/>
<path stroke="#eeff08" d="M102 535.5h1M102 536.5h1"/>
<path stroke="#ffe600" d="M101 535.5h1M101 536.5h1M104 538.5h2M104 539.5h2"/>
<path stroke="#ffb100" d="M103 537.5h1"/>
<path stroke="#ff8a00" d="M102 537.5h1"/>
<path stroke="#ff7d00" d="M103 538.5h1"/>
<path stroke="#ff6300" d="M101 537.5h1M103 539.5h1"/>
<path stroke="#ff4900" d="M102 538.5h1"/>
<path stroke="#ff1400" d="M101 538.5h1"/>
<path stroke="#f00700" d="M102 539.5h1"/>
<path stroke="#a00000" d="M101 539.5h1"/>
</g>
<rect x="100.5" y="72.5" width="496" height="468" fill="none" stroke="#000" stroke-width="1"/>
<path d="M100.50 540.50v-6.00M100.50 72.50v6.00M100.50 540.50h6.00M596.50 540.50h-6.00" stroke="#000" stroke-width="0.8" fill="none"/>
<path d="M199.50 540.50v-6.00M199.50 72.50v6.00M100.50 446.50h6.00M596.50 446.50h-6.00" stroke="#000" stroke-width="0.8" fill="none"/>
<path d="M298.50 540.50v-6.00M298.50 72.50v6.00M100.50 353.50h6.00M596.50 353.50h-6.00" stroke="#000" stroke-width="0.8" fill="none"/>
<path d="M398.50 540.50v-6.00M398.50 72.50v6.00M100.50 259.50h6.00M596.50 259.50h-6.00" stroke="#000" stroke-width="0.8" fill="none"/>
<path d="M497.50 540.50v-6.00M497.50 72.50v6.00M100.50 166.50h6.00M596.50 166.50h-6.00" stroke="#000" stroke-width="0.8" fill="none"/>
<path d="M596.50 540.50v-6.00M596.50 72.50v6.00M100.50 72.50h6.00M596.50 72.50h-6.00" stroke="#000" stroke-width="0.8" fill="none"/>
<text class="t" x="99.05" y="557.30" text-anchor="middle">0</text>
<text class="t" x="93.90" y="545.60" text-anchor="end">0</text>
<text class="t" x="198.25" y="557.30" text-anchor="middle">100</text>
<text class="t" x="93.90" y="452.00" text-anchor="end">100</text>
<text class="t" x="297.45" y="557.30" text-anchor="middle">200</text>
<text class="t" x="93.90" y="358.40" text-anchor="end">200</text>
<text class="t" x="396.65" y="557.30" text-anchor="middle">300</text>
<text class="t" x="93.90" y="264.80" text-anchor="end">300</text>
<text class="t" x="495.85" y="557.30" text-anchor="middle">400</text>
<text class="t" x="93.90" y="171.20" text-anchor="end">400</text>
<text class="t" x="595.05" y="557.30" text-anchor="middle">500</text>
<text class="t" x="93.90" y="77.60" text-anchor="end">500</text>
<text x="348.2" y="576" text-anchor="middle">LET in D1&amp;2 (keV/micron)</text>
<text transform="translate(53.4 305.9) rotate(-90)" text-anchor="middle">LET in D3&amp;4 (keV/micron)</text>
<text x="400" y="24" text-anchor="middle">31 day SEP cross plot data derived from 935671 accumulated seconds</text>
<text x="413.5" y="42" text-anchor="middle">from 2012-05-07 DOY:128</text>
<text x="400.5" y="60" text-anchor="middle">through 2012-06-06 DOY:158</text>
<rect x="627.5" y="72.5" width="23" height="468" fill="url(#jet)" stroke="#000" stroke-width="1"/>
<path d="M650.50 540.50h-6.00" stroke="#000" stroke-width="0.8" fill="none"/>
<text class="c" x="654.00" y="545.20">1</text>
<path d="M650.50 384.50h-6.00" stroke="#000" stroke-width="0.8" fill="none"/>
<text class="c" x="654.00" y="389.20">10</text>
<path d="M650.50 228.50h-6.00" stroke="#000" stroke-width="0.8" fill="none"/>
<text class="c" x="654.00" y="233.20">100</text>
<path d="M650.50 72.50h-6.00" stroke="#000" stroke-width="0.8" fill="none"/>
<text class="c" x="654.00" y="77.20">1000</text>
<text transform="translate(712.4 306.7) rotate(-90)" text-anchor="middle">Counts</text>
</svg></body></html>
